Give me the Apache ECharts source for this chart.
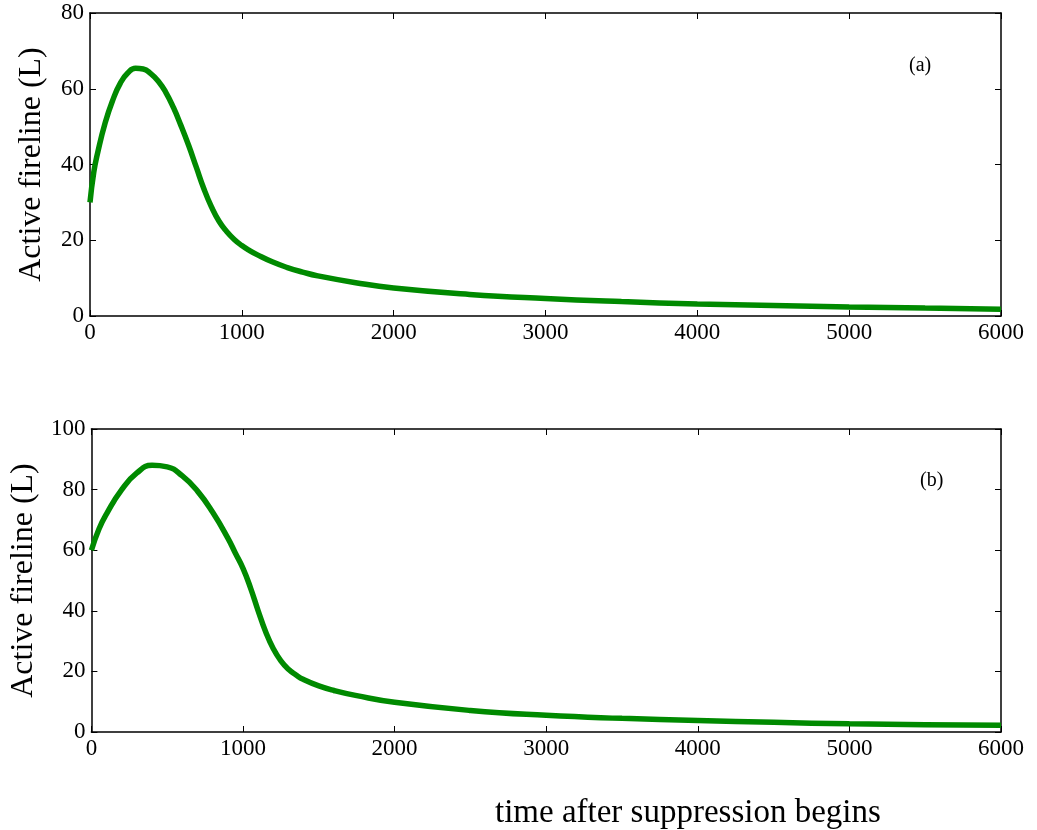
<!DOCTYPE html>
<html><head><meta charset="utf-8">
<script src="https://cdn.jsdelivr.net/npm/echarts@6/dist/echarts.min.js"></script>
<style>html,body{margin:0;padding:0;background:#fff}#c{width:1037px;height:830px}</style>
</head><body><div id="c"></div>
<script>
const timeA = [0,25,50,100,150,200,250,300,350,400,450,500,550,600,650,700,750,800,850,900,950,1000,1050,1100,1200,1300,1400,1500,1750,2000,2500,3000,3500,4000,4500,5000,5500,6000];
const fireA = [30,38,43,51,57,61.5,64.2,65.4,65.2,64,62,59,55,50.2,45,39.3,33.6,28.8,25,22.3,20.2,18.6,17.3,16.2,14.3,12.8,11.6,10.6,8.8,7.4,5.7,4.6,3.8,3.2,2.8,2.4,2.1,1.8];
const timeB = [0,50,100,200,300,400,500,600,700,800,900,950,1000,1050,1100,1150,1200,1250,1300,1350,1400,1500,1600,1750,2000,2500,3000,3500,4000,4500,5000,5500,6000];
const fireB = [60,67,72,80,85.5,88,87.5,84.5,79.5,72.5,64,59,54,47.5,40,33,27.5,23.5,20.7,18.8,17.3,15.2,13.7,12,9.8,7.1,5.5,4.5,3.8,3.2,2.7,2.4,2.2];
const yLabel = 'Active fireline (L)';
const xLabel = 'time after suppression begins';
const panelLabels = ['(a)','(b)'];

const font = 'Liberation Serif';
const chart = echarts.init(document.getElementById('c'));
function xAx(gi, pos, labels) {
  return {type:'value', gridIndex:gi, position:pos, min:0, max:6000, interval:1000,
    axisLine:{show:true, onZero:false, lineStyle:{color:'#000', width:1.5}},
    axisTick:{show:true, inside:true, length:6, lineStyle:{color:'#000'}},
    axisLabel:{show:labels, color:'#000', fontFamily:font, fontSize:23, margin:5, formatter:v=>String(v)},
    splitLine:{show:false}};
}
function yAx(gi, pos, labels, max, gap) {
  return {type:'value', gridIndex:gi, position:pos, min:0, max:max, interval:20,
    name: labels ? yLabel : '', nameLocation:'middle', nameGap:gap,
    nameTextStyle:{color:'#000', fontFamily:font, fontSize:32},
    axisLine:{show:true, onZero:false, lineStyle:{color:'#000', width:1.5}},
    axisTick:{show:true, inside:true, length:6, lineStyle:{color:'#000'}},
    axisLabel:{show:labels, color:'#000', fontFamily:font, fontSize:23, margin:6, formatter:v=>String(v)},
    splitLine:{show:false}};
}
const option = {
  animation:false,
  backgroundColor:'#fff',
  title:[
    {text:xLabel, left:490, top:792, textStyle:{color:'#000', fontFamily:font, fontSize:33, fontWeight:'normal'}},
    {text:panelLabels[0], left:904, top:51, textStyle:{color:'#000', fontFamily:font, fontSize:20, fontWeight:'normal'}},
    {text:panelLabels[1], left:915, top:466, textStyle:{color:'#000', fontFamily:font, fontSize:20, fontWeight:'normal'}}
  ],
  grid:[
    {left:90, top:13, width:911, height:303},
    {left:90, top:429, width:911, height:303}
  ],
  xAxis:[xAx(0,'bottom',true), xAx(0,'top',false), xAx(1,'bottom',true), xAx(1,'top',false)],
  yAxis:[yAx(0,'left',true,80,42), yAx(0,'right',false,80,0), yAx(1,'left',true,100,48), yAx(1,'right',false,100,0)],
  series:[
    {type:'line', xAxisIndex:0, yAxisIndex:0, data:timeA.map((t,i)=>[t,fireA[i]]), smooth:0.5, showSymbol:false, lineStyle:{color:'#008a00', width:5.5}},
    {type:'line', xAxisIndex:2, yAxisIndex:2, data:timeB.map((t,i)=>[t,fireB[i]]), smooth:0.5, showSymbol:false, lineStyle:{color:'#008a00', width:5.5}}
  ]
};
chart.setOption(option);
</script></body></html>
